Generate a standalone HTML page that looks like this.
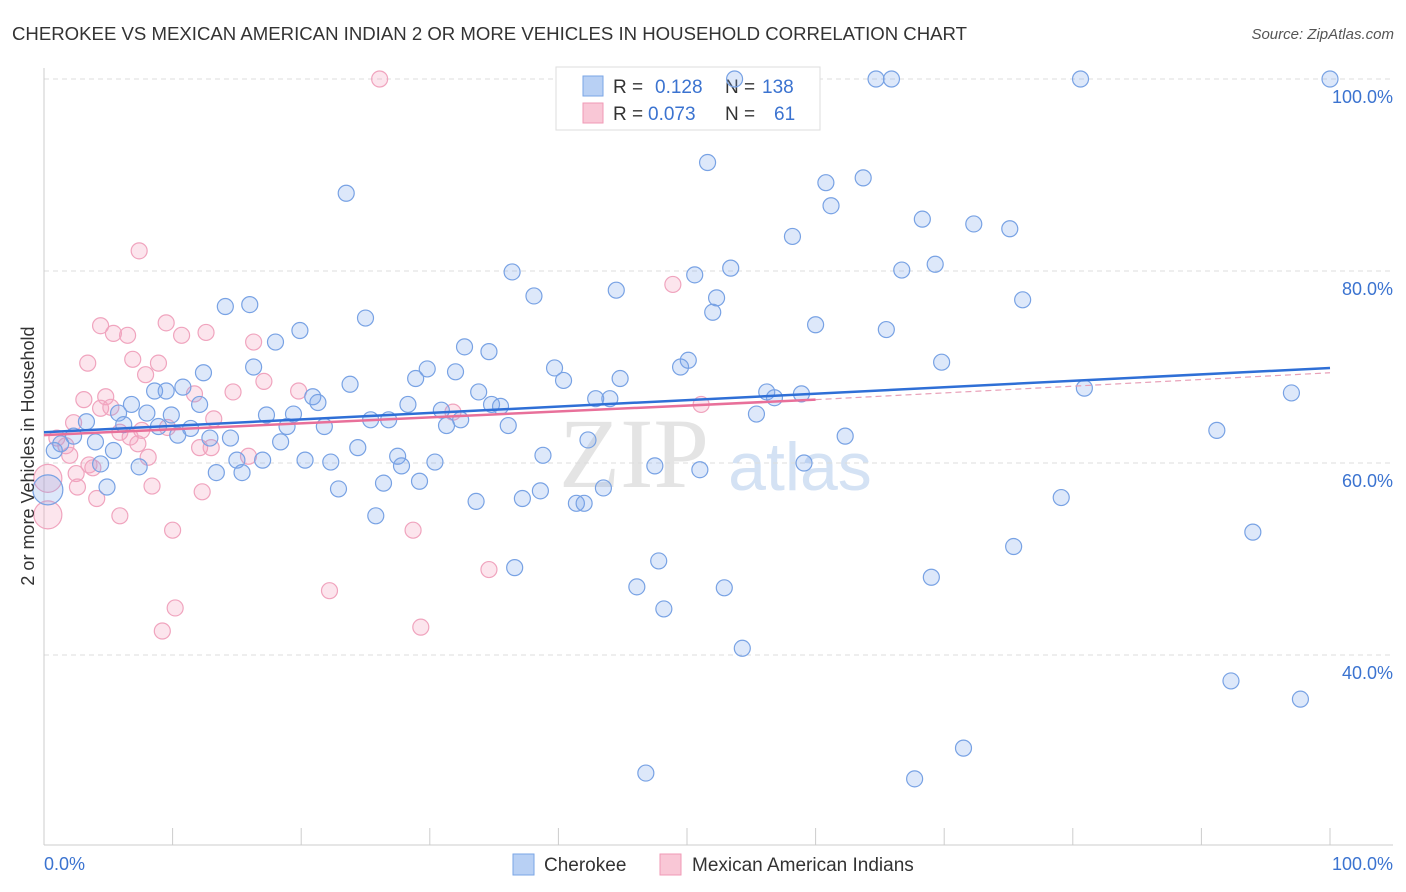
<!DOCTYPE html>
<html><head><meta charset="utf-8"><style>
body{margin:0;background:#fff;font-family:"Liberation Sans",sans-serif;}
svg{display:block}
</style></head><body>
<svg id="chart" width="1406" height="892" xmlns="http://www.w3.org/2000/svg">
<text x="12" y="40" font-size="18" fill="#333" textLength="955" lengthAdjust="spacingAndGlyphs">CHEROKEE VS MEXICAN AMERICAN INDIAN 2 OR MORE VEHICLES IN HOUSEHOLD CORRELATION CHART</text>
<text x="1394" y="39" font-size="15" fill="#555" font-style="italic" text-anchor="end">Source: ZipAtlas.com</text>
<text x="634" y="487" font-size="100" fill="#e4e4e4" font-family="Liberation Serif" text-anchor="middle">ZIP</text>
<text x="800" y="490" font-size="68" fill="#d4e2f4" text-anchor="middle">atlas</text>
<g id="grid"></g>
<g id="axes"></g>
<g>
<rect x="556" y="67" width="264" height="63" fill="#fff" stroke="#ddd"/>
<rect x="583" y="76" width="20" height="20" fill="#b8d0f4" stroke="#7aa6e6"/>
<rect x="583" y="103" width="20" height="20" fill="#f9c7d6" stroke="#f09ab6"/>
<text x="613" y="93" font-size="19" fill="#333">R = </text><text x="655" y="93" font-size="19" fill="#3b73d0">0.128</text>
<text x="725" y="93" font-size="19" fill="#333">N = </text><text x="762" y="93" font-size="19" fill="#3b73d0">138</text>
<text x="613" y="120" font-size="19" fill="#333">R = </text><text x="648" y="120" font-size="19" fill="#3b73d0">0.073</text>
<text x="725" y="120" font-size="19" fill="#333">N = </text><text x="774" y="120" font-size="19" fill="#3b73d0">61</text>
</g>
<g id="pts"></g>
<g id="trends"></g>
<text transform="translate(34,456) rotate(-90)" font-size="18" fill="#333" text-anchor="middle">2 or more Vehicles in Household</text>
<g>
<rect x="513" y="854" width="21" height="21" fill="#b8d0f4" stroke="#7aa6e6"/>
<text x="544" y="871" font-size="19" fill="#333">Cherokee</text>
<rect x="660" y="854" width="21" height="21" fill="#f9c7d6" stroke="#f09ab6"/>
<text x="692" y="871" font-size="19" fill="#333">Mexican American Indians</text>
</g>
</svg>
<script>
const blueX=[53.7,64.7,65.9,80.6,100,51.6,23.5,60.8,63.7,61.2,68.3,72.3,75.1,58.2,36.4,50.6,53.4,66.7,69.3,38.1,44.5,52.3,52.0,76.1,14.1,16.0,25.0,60.0,65.5,19.9,18.0,32.7,34.6,69.8,50.1,49.5,16.3,12.4,29.8,32.0,39.7,40.4,44.8,28.9,23.8,8.6,9.5,10.8,33.8,20.9,21.3,42.9,44.0,56.2,56.8,58.9,80.9,97.0,6.8,12.1,28.3,30.9,34.8,35.5,5.8,8.0,9.9,17.3,19.4,25.4,26.8,32.4,55.4,3.3,6.2,8.9,11.4,18.9,21.8,31.3,36.1,2.3,4.0,1.3,10.4,12.9,14.5,18.4,24.4,42.3,62.3,91.2,0.8,5.4,4.4,7.4,15.0,17.0,20.3,22.3,27.5,27.8,30.4,38.8,47.5,51.0,59.1,13.4,15.4,29.2,26.4,4.9,22.9,43.5,38.6,0.3,33.6,37.2,41.4,42.0,79.1,25.8,94.0,75.4,47.8,36.6,69.0,46.1,52.9,48.2,54.3,92.3,97.7,71.5,46.8,67.7];
const blueY=[100,100,100,100,100,91.3,88.1,89.2,89.7,86.8,85.4,84.9,84.4,83.6,79.9,79.6,80.3,80.1,80.7,77.4,78.0,77.2,75.7,77.0,76.3,76.5,75.1,74.4,73.9,73.8,72.6,72.1,71.6,70.5,70.7,70.0,70.0,69.4,69.8,69.5,69.9,68.6,68.8,68.8,68.2,67.5,67.5,67.9,67.4,66.9,66.3,66.7,66.7,67.4,66.8,67.2,67.8,67.3,66.1,66.1,66.1,65.5,66.1,65.9,65.2,65.2,65.0,65.0,65.1,64.5,64.5,64.5,65.1,64.3,64.0,63.8,63.6,63.8,63.8,63.9,63.9,62.8,62.2,62.0,62.9,62.6,62.6,62.2,61.6,62.4,62.8,63.4,61.3,61.3,59.9,59.6,60.3,60.3,60.3,60.1,60.7,59.7,60.1,60.8,59.7,59.3,60.0,59.0,59.0,58.1,57.9,57.5,57.3,57.4,57.1,57.2,56.0,56.3,55.8,55.8,56.4,54.5,52.8,51.3,49.8,49.1,48.1,47.1,47.0,44.8,40.7,37.3,35.4,30.3,27.7,27.1];
const pinkX=[26.1,7.4,48.9,4.4,5.4,6.5,9.5,10.7,12.6,16.3,3.4,6.9,8.9,7.9,17.1,4.8,11.7,14.7,19.8,3.1,4.4,5.2,2.3,13.2,31.8,51.1,5.9,6.7,7.6,9.6,1.0,1.7,7.3,12.1,13.0,15.9,2.0,8.1,3.5,3.8,2.5,0.3,2.6,8.4,12.3,4.1,0.3,5.9,10.0,28.7,34.6,22.2,10.2,9.2,29.3];
const pinkY=[100,82.1,78.6,74.3,73.5,73.3,74.6,73.3,73.6,72.6,70.4,70.8,70.4,69.2,68.5,66.9,67.2,67.4,67.5,66.6,65.7,65.8,64.2,64.6,65.3,66.1,63.2,62.7,63.4,63.7,62.6,61.8,62.0,61.6,61.6,60.7,60.8,60.6,59.8,59.5,58.9,58.4,57.5,57.6,57.0,56.3,54.6,54.5,53.0,53.0,48.9,46.7,44.9,42.5,42.9];
const yTicks=[100,80,60,40];
const blueTrend=[[0,63.2],[100,69.9]];
const pinkTrend=[[0,62.9],[60,66.6],[100,69.4]];
const NS="http://www.w3.org/2000/svg";
const X=v=>44+v*12.86, Y=v=>79+(100-v)*9.6;
function mk(tag,attrs,parent){const e=document.createElementNS(NS,tag);for(const k in attrs)e.setAttribute(k,attrs[k]);document.getElementById(parent).appendChild(e);return e;}
yTicks.forEach(t=>{
 const l=mk('line',{x1:44,x2:1393,y1:Y(t),y2:Y(t),stroke:'#ddd','stroke-dasharray':'5,4'},'grid');
 
 
 const tx=mk('text',{x:1393,y:Y(t)+24,'font-size':18,fill:'#3b73d0','text-anchor':'end'},'grid');
 tx.textContent=t.toFixed(1)+'%';
 
 
});
mk('line',{x1:44,x2:44,y1:68,y2:845,stroke:'#ccc'},'axes');
mk('line',{x1:44,x2:1393,y1:845,y2:845,stroke:'#ccc'},'axes');
for(let i=0;i<=10;i++){mk('line',{x1:X(i*10),x2:X(i*10),y1:828,y2:845,stroke:'#ccc'},'axes');}
let t0=mk('text',{x:44,y:870,'font-size':18,fill:'#3b73d0'},'axes');t0.textContent='0.0%';


let t1=mk('text',{x:1393,y:870,'font-size':18,fill:'#3b73d0','text-anchor':'end'},'axes');t1.textContent='100.0%';


pinkX.forEach((x,i)=>{
 const c=mk('circle',{cx:X(x),cy:Y(pinkY[i]),r:x<0.5?14:8,fill:'rgba(244,160,190,0.28)',stroke:'#f0a4be','stroke-width':1.2},'pts');
 
 
});
blueX.forEach((x,i)=>{
 const c=mk('circle',{cx:X(x),cy:Y(blueY[i]),r:x<0.5?15:8,fill:'rgba(120,165,235,0.25)',stroke:'#78a2e4','stroke-width':1.2},'pts');
 
 
});
const bt=mk('line',{x1:X(blueTrend[0][0]),y1:Y(blueTrend[0][1]),x2:X(blueTrend[1][0]),y2:Y(blueTrend[1][1]),stroke:'#2f6fd6','stroke-width':2.5},'trends');


const pt=mk('line',{x1:X(pinkTrend[0][0]),y1:Y(pinkTrend[0][1]),x2:X(pinkTrend[1][0]),y2:Y(pinkTrend[1][1]),stroke:'#e8709a','stroke-width':2.5},'trends');


const pd=mk('line',{x1:X(pinkTrend[1][0]),y1:Y(pinkTrend[1][1]),x2:X(pinkTrend[2][0]),y2:Y(pinkTrend[2][1]),stroke:'#e8a0b8','stroke-width':1.2,'stroke-dasharray':'6,4'},'trends');


</script>
</body></html>
